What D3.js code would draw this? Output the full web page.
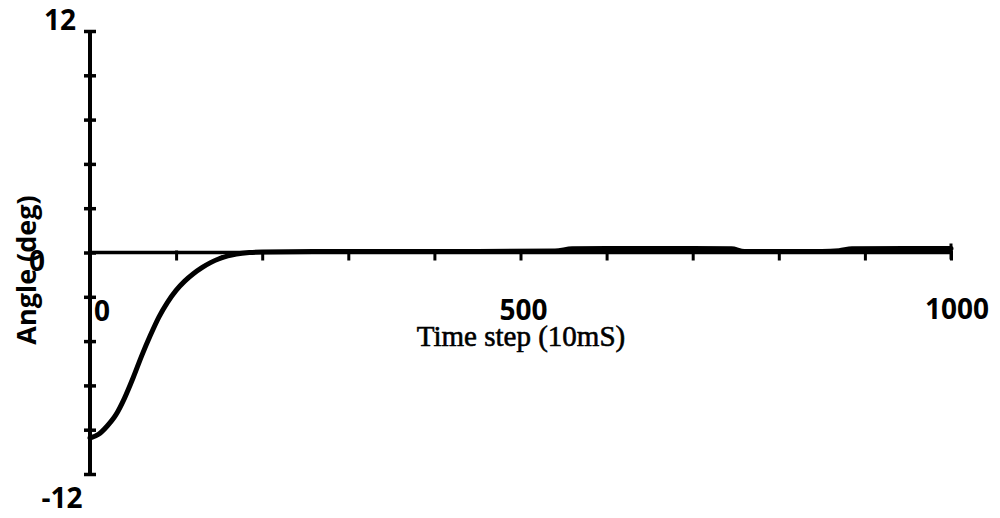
<!DOCTYPE html>
<html>
<head>
<meta charset="utf-8">
<script src="https://cdn.jsdelivr.net/npm/d3@7"></script>
<style>
  body { margin: 0; background: #fff; }
  svg { display: block; }
  .tick-label { font-family: "Open Sans", sans-serif; font-weight: 700; font-size: 28px; fill: #000; }
</style>
</head>
<body>
<svg id="chart"></svg>
<script>
// Response trace (time step, angle in deg)
const traceTime = [0, 10, 20, 30, 40, 50, 60, 70, 80, 90, 100, 110, 120, 130, 140, 150, 160, 170, 185, 200, 260, 350, 450, 540, 560, 600, 650, 700, 745, 760, 850, 870, 885, 950, 1000];
const traceAngle = [-10.05, -9.85, -9.4, -8.8, -7.9, -6.8, -5.6, -4.5, -3.5, -2.7, -2.05, -1.55, -1.15, -0.82, -0.55, -0.34, -0.18, -0.08, 0.0, 0.03, 0.06, 0.06, 0.06, 0.08, 0.2, 0.22, 0.22, 0.22, 0.2, 0.06, 0.06, 0.1, 0.2, 0.22, 0.22];

const xTicks = [0, 100, 200, 300, 400, 500, 600, 700, 800, 900, 1000];
const xLabels = ["0", "500", "1000"];
const yTicks = [-12, -9.6, -7.2, -4.8, -2.4, 0, 2.4, 4.8, 7.2, 9.6, 12];
const yLabels = ["12", "0", "-12"];

const width = 1000, height = 518;

const svg = d3.select("#chart")
    .attr("width", width)
    .attr("height", height);

const x = d3.scaleLinear()
    .domain([0, 1000])
    .range([90, 951]);

const y = d3.scaleLinear()
    .domain([-12, 12])
    .range([474, 31]);

// y axis: ticks cross the line
svg.append("line")
    .attr("x1", x(0)).attr("x2", x(0))
    .attr("y1", y(12)).attr("y2", y(-12))
    .attr("stroke", "#000")
    .attr("stroke-width", 4);

const yAxis = svg.append("g")
    .attr("transform", `translate(${x(0) + 6},0)`)
    .call(d3.axisLeft(y).tickValues(yTicks).tickSize(12).tickFormat(""));
yAxis.select(".domain").remove();
yAxis.selectAll(".tick line").attr("stroke", "#000").attr("stroke-width", 3.5);

// x axis sits at angle 0
const xAxis = svg.append("g")
    .attr("transform", `translate(0,${y(0) - 2})`)
    .call(d3.axisBottom(x).tickValues(xTicks).tickSize(10).tickSizeOuter(0).tickFormat(""));
xAxis.select(".domain").attr("stroke", "#000").attr("stroke-width", 3.5)
    .attr("d", `M${x(0)},2H${x(1000)}`);
xAxis.selectAll(".tick line").attr("stroke", "#000").attr("stroke-width", 3);
// end tick at 1000 goes both ways
svg.append("line")
    .attr("x1", x(1000)).attr("x2", x(1000))
    .attr("y1", y(0) - 9).attr("y2", y(0) + 7)
    .attr("stroke", "#000")
    .attr("stroke-width", 3);

// trace
const traceData = traceTime.map((t, i) => ({t: t, v: traceAngle[i]}));

const line = d3.line()
    .x(d => x(d.t))
    .y(d => y(d.v))
    .curve(d3.curveMonotoneX);

svg.append("path")
    .datum(traceData)
    .attr("fill", "none")
    .attr("stroke", "#000")
    .attr("stroke-width", 5)
    .attr("stroke-linecap", "round")
    .attr("stroke-linejoin", "round")
    .attr("d", line);

// tick labels
svg.append("text").attr("class", "tick-label")
    .attr("x", 60).attr("y", y(12) - 1)
    .attr("text-anchor", "middle").text(yLabels[0]);
svg.append("text").attr("class", "tick-label")
    .attr("x", 37).attr("y", y(0) + 18)
    .attr("text-anchor", "middle").text(yLabels[1]);
svg.append("text").attr("class", "tick-label")
    .attr("x", 62).attr("y", y(-12) + 34)
    .attr("text-anchor", "middle").text(yLabels[2]);

svg.append("text").attr("class", "tick-label")
    .attr("x", x(0) + 4).attr("y", 321)
    .attr("text-anchor", "start").text(xLabels[0]);
svg.append("text").attr("class", "tick-label")
    .attr("x", x(500) + 3).attr("y", 320)
    .attr("text-anchor", "middle").text(xLabels[1]);
svg.append("text").attr("class", "tick-label")
    .attr("x", x(1000) + 6).attr("y", 319)
    .attr("text-anchor", "middle").text(xLabels[2]);

// axis titles
svg.append("text")
    .attr("x", 521).attr("y", 346)
    .attr("text-anchor", "middle")
    .style("font-family", "'Liberation Serif', serif")
    .style("font-weight", "400")
    .style("font-size", "29px")
    .style("stroke", "#000")
    .style("stroke-width", "0.6px")
    .text("Time step (10mS)");

svg.append("text")
    .attr("transform", "translate(36,270) rotate(-90)")
    .attr("text-anchor", "middle")
    .style("font-family", "'Open Sans', sans-serif")
    .style("font-weight", "700")
    .style("font-size", "27px")
    .text("Angle (deg)");
</script>
</body>
</html>
